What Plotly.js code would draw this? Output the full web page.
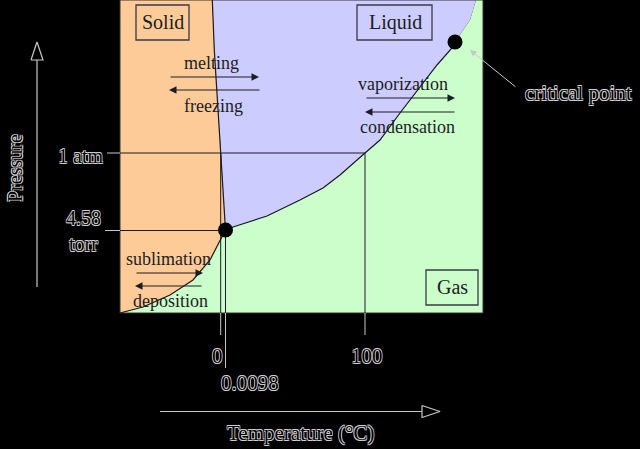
<!DOCTYPE html>
<html><head><meta charset="utf-8">
<script src="https://cdn.plot.ly/plotly-3.0.1.min.js"></script>
<style>html,body{margin:0;padding:0;background:#000;}</style>
</head><body><div id="chart" style="width:640px;height:449px;"></div>
<script>
// Schematic phase diagram of water (relative, non-linear units)
const meltingT = [105.5, 103, 101, 97.3, 94.3, 92.3];
const meltingP = [83, 123, 160, 213, 263, 313];
const sublimationT = [0, 23, 50, 73, 90, 100, 105.5];
const sublimationP = [0, 6, 18, 33, 53, 73, 83];
const vaporizationT = [105.5, 113, 147, 180, 203, 220, 245, 260, 280, 300, 317, 332, 335];
const vaporizationP = [83, 86, 97, 113, 125, 138, 160, 173, 200, 226, 248, 265, 271];
const supercriticalT = [335, 350, 356];
const supercriticalP = [271, 293, 313];
const pointT = [105.5, 335];           // triple point, critical point
const pointP = [83, 271];
const frameT = [0, 363];
const frameP = [0, 313];
const tickT = [100.7, 105.5, 245];
const tickLabels = ['0', '0.0098', '100'];
const refP = [160, 82.5];
const refLabels = ['1 atm', '4.58<br>torr'];
const phaseNames = ['Solid', 'Liquid', 'Gas'];
const processNames = ['melting', 'freezing', 'vaporization', 'condensation', 'sublimation', 'deposition'];

const rev = a => a.slice().reverse();
const SERIF = 'Liberation Serif, Times New Roman, serif';
const OUT = '#c8c8c8';
const INK = '#1c1c24';
const shadow = '0.6px 0.6px 0 #d0d0d0, -0.6px -0.6px 0 #d0d0d0, 0.6px -0.6px 0 #d0d0d0, -0.6px 0.6px 0 #d0d0d0, 0 0 1px #ffffff, 0 0 1px #ffffff';

const traces = [];
function line(x, y, color, w, extra) {
  traces.push(Object.assign({x: x, y: y, mode: 'lines', line: {color: color, width: w}, hoverinfo: 'skip'}, extra || {}));
}
// Regions
traces.push({x: [frameT[0]].concat(rev(meltingT), rev(sublimationT)),
             y: [frameP[1]].concat(rev(meltingP), rev(sublimationP)),
             fill: 'toself', fillcolor: '#fccb98', mode: 'lines', line: {width: 0}, hoverinfo: 'skip'});
traces.push({x: rev(supercriticalT).concat(rev(vaporizationT), meltingT),
             y: rev(supercriticalP).concat(rev(vaporizationP), meltingP),
             fill: 'toself', fillcolor: '#ccccfe', mode: 'lines', line: {width: 0}, hoverinfo: 'skip'});
traces.push({x: [frameT[1], frameT[1]].concat(sublimationT, vaporizationT, supercriticalT),
             y: [frameP[1], frameP[0]].concat(sublimationP, vaporizationP, supercriticalP),
             fill: 'toself', fillcolor: '#ccfecc', mode: 'lines', line: {width: 0}, hoverinfo: 'skip'});
// frame
line([frameT[0], frameT[1], frameT[1], frameT[0], frameT[0]], [frameP[0], frameP[0], frameP[1], frameP[1], frameP[0]], '#3a3030', 1);
// phase boundaries
line(meltingT, meltingP, INK, 1.2);
line(sublimationT, sublimationP, INK, 1.2);
line(vaporizationT, vaporizationP, INK, 1.2);
// reference lines
const refEnd = [tickT[2], pointT[0]];
const refStart = [-13, -15];
refP.forEach((p, i) => {
  line([frameT[0], refEnd[i]], [p, p], INK, 1);
  line([refStart[i], frameT[0]], [p, p], OUT, 1);
});
const tickTop = [refP[0], pointP[0], refP[0]];
const tickBottom = [-22, -55, -22];
tickT.forEach((t, i) => {
  line([t, t], [tickTop[i], frameP[0]], INK, 1);
  line([t, t], [frameP[0], tickBottom[i]], OUT, 1);
});
// axis arrows
line([40, 302], [-98.5, -98.5], OUT, 1.2);
line([302, 320, 302, 302], [-92.5, -98.5, -104.5, -92.5], OUT, 1.2);
line([-83, -83], [26, 253], OUT, 1.2);
line([-89, -83, -77, -89], [253, 271, 253, 253], OUT, 1.2);
// special points
traces.push({x: pointT, y: pointP, mode: 'markers', marker: {color: '#000', size: 15}, hoverinfo: 'skip'});

const ann = [];
function txt(x, y, s, size, color, opts) {
  ann.push(Object.assign({x: x, y: y, xref: 'x', yref: 'y', text: s, showarrow: false,
    xanchor: 'center', yanchor: 'middle',
    font: {family: SERIF, size: size, color: color}}, opts || {}));
}
function outTxt(x, y, s, size, opts) {
  txt(x, y, s, size, '#000', opts);
  ann[ann.length - 1].font.shadow = shadow;
}
function arrow(x0, y0, x1, y1, color, sz) {
  ann.push({x: x1, y: y1, ax: x0, ay: y0, xref: 'x', yref: 'y', axref: 'x', ayref: 'y',
    text: '', showarrow: true, arrowhead: 2, arrowsize: sz || 1.5, arrowwidth: 1, arrowcolor: color,
    standoff: 0, startstandoff: 0});
}
// phase boxes
const boxX = [[16, 69], [237, 312], [306, 358]];
const boxY = [[273, 308], [273, 308], [8, 43]];
const shapes = [];
phaseNames.forEach((n, i) => {
  shapes.push({type: 'rect', xref: 'x', yref: 'y', x0: boxX[i][0], x1: boxX[i][1], y0: boxY[i][0], y1: boxY[i][1],
    line: {color: '#3a3a48', width: 1.3}});
  txt((boxX[i][0] + boxX[i][1]) / 2 + 0.5, (boxY[i][0] + boxY[i][1]) / 2 + 0.5, n, 20, INK);
});
// process labels and arrows
const procX = [91, 93, 283, 287, 48, 50];
const procY = [250, 207, 229, 186, 54, 12];
processNames.forEach((n, i) => txt(procX[i], procY[i], n, 18, INK));
arrow(49, 236, 139, 236, INK);
arrow(141, 223, 49, 223, INK);
arrow(245, 215, 335, 215, INK);
arrow(336, 201, 245, 201, INK);
arrow(15, 40, 83, 40, INK);
arrow(83, 27, 15, 27, INK);
// outside labels
outTxt(tickT[0] - 3, -43, tickLabels[0], 21);
outTxt(tickT[1] - 7, -70, tickLabels[1], 21, {xanchor: 'left'});
outTxt(tickT[2] + 2, -43, tickLabels[2], 21);
outTxt(-40, refP[0] - 3, refLabels[0], 20);
outTxt(-37, refP[1] - 0.5, refLabels[1], 20);
outTxt(180, -120, 'Temperature (°C)', 21);
outTxt(-105, 145, 'Pressure', 20, {textangle: -90});
outTxt(458, 220, 'critical point', 21);
arrow(397, 225, 350, 263, OUT, 1.3);

const layout = {
  width: 640, height: 449, margin: {l: 0, r: 0, t: 0, b: 0},
  paper_bgcolor: '#000', plot_bgcolor: '#000', showlegend: false,
  xaxis: {range: [-120, 520], visible: false, fixedrange: true},
  yaxis: {range: [-136, 313], visible: false, fixedrange: true},
  annotations: ann, shapes: shapes
};
Plotly.newPlot('chart', traces, layout, {staticPlot: true, displayModeBar: false});
</script></body></html>
